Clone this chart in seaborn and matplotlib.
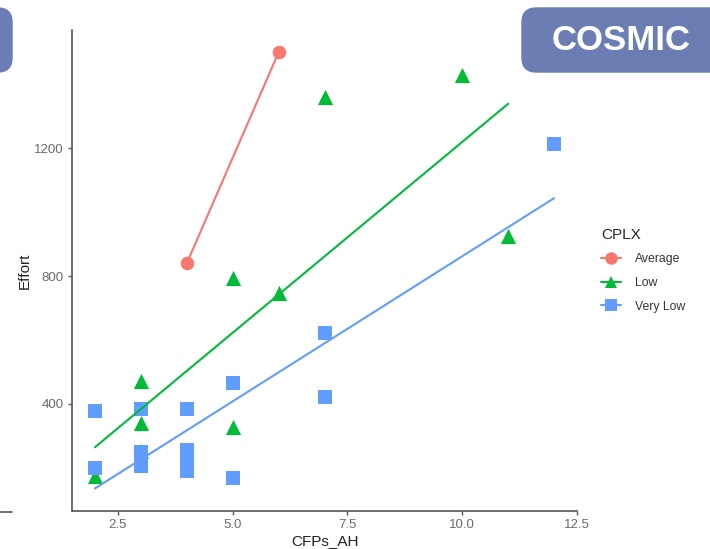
import pandas as pd
import seaborn as sns
import matplotlib.pyplot as plt
from matplotlib.lines import Line2D
from matplotlib.patches import FancyBboxPatch

# values
avg_x = [4, 6]
avg_y = [840, 1500]

low_x = [2, 3, 3, 3, 5, 5, 6, 7, 10, 11]
low_y = [175, 472, 340, 253, 795, 328, 748, 1360, 1429, 924]

vlow_x = [2, 2, 3, 3, 3, 3, 4, 4, 4, 4, 4, 5, 5, 7, 7, 12]
vlow_y = [378, 199, 384, 250, 225, 205, 384, 255, 230, 210, 190, 466, 168, 623, 422, 1213]

levels = ["Average", "Low", "Very Low"]
colors = {"Average": "#F8766D", "Low": "#00BA38", "Very Low": "#619CFF"}
markers = {"Average": "o", "Low": "^", "Very Low": "s"}
sizes = {"Average": 95, "Low": 120, "Very Low": 95}

df = pd.concat([
    pd.DataFrame({"CFPs_AH": avg_x, "Effort": avg_y, "CPLX": "Average"}),
    pd.DataFrame({"CFPs_AH": low_x, "Effort": low_y, "CPLX": "Low"}),
    pd.DataFrame({"CFPs_AH": vlow_x, "Effort": vlow_y, "CPLX": "Very Low"}),
])

sns.set_style("white")
plt.rcParams["font.family"] = ["Liberation Sans", "DejaVu Sans"]

fig = plt.figure(figsize=(7.1, 5.49), dpi=100)
ax = fig.add_axes([0.1014, 0.0692, 0.7113, 0.8762])

# points first, fitted lines on top (like geom_point + geom_smooth)
for lvl in levels:
    sub = df[df["CPLX"] == lvl]
    sns.scatterplot(data=sub, x="CFPs_AH", y="Effort", color=colors[lvl],
                    marker=markers[lvl], s=sizes[lvl], linewidth=0, ax=ax,
                    legend=False, zorder=2)
for lvl in levels:
    sub = df[df["CPLX"] == lvl]
    sns.regplot(data=sub, x="CFPs_AH", y="Effort", scatter=False, ci=None,
                color=colors[lvl], line_kws={"lw": 1.5, "zorder": 3}, ax=ax)

ax.set_xlim(1.5, 12.5)
ax.set_ylim(65, 1570)
ax.set_xticks([2.5, 5.0, 7.5, 10.0, 12.5])
ax.set_xticklabels(["2.5", "5.0", "7.5", "10.0", "12.5"])
ax.set_yticks([400, 800, 1200])

sns.despine(ax=ax)
for s in ["left", "bottom"]:
    ax.spines[s].set_color("#555555")
    ax.spines[s].set_linewidth(1.2)
ax.tick_params(axis="both", which="both", direction="out", length=3, width=1,
               color="#555555", labelsize=9.5, labelcolor="#6b6b6b", pad=3,
               left=True, bottom=True)
ax.set_xlabel("CFPs_AH", fontsize=11, color="#222222", labelpad=2)
ax.set_ylabel("Effort", fontsize=11, color="#222222")
ax.yaxis.set_label_coords(-0.079, 0.5)

handles = [Line2D([], [], color=colors[l], marker=markers[l], markersize=9,
                  lw=1.5, markeredgewidth=0) for l in levels]
leg = fig.legend(handles, levels, title="CPLX", loc="upper left",
                 bbox_to_anchor=(0.831, 0.605), frameon=False, fontsize=8.8,
                 title_fontsize=11, handlelength=1.6, labelspacing=0.95,
                 handletextpad=1.2)
leg._legend_box.align = "left"
for t in leg.get_texts():
    t.set_color("#333333")

# slide decorations around the chart
box_color = "#6b7db3"
fig.patches.append(FancyBboxPatch((522 / 710, 1 - 72 / 549), 0.3, 64 / 549,
                                  boxstyle="round,pad=0,rounding_size=0.02",
                                  transform=fig.transFigure, color=box_color,
                                  mutation_aspect=710 / 549))
fig.patches.append(FancyBboxPatch((-0.05, 1 - 72 / 549), 12 / 710 + 0.05, 64 / 549,
                                  boxstyle="round,pad=0,rounding_size=0.02",
                                  transform=fig.transFigure, color=box_color,
                                  mutation_aspect=710 / 549))
fig.text(621 / 710, 1 - 40 / 549, "COSMIC", color="white", fontsize=25,
         fontweight="bold", ha="center", va="center")
fig.add_artist(Line2D([0, 12 / 710], [1 - 512 / 549] * 2, color="#555555",
                      lw=1.2, transform=fig.transFigure))

fig.savefig("out.png", dpi=100)
